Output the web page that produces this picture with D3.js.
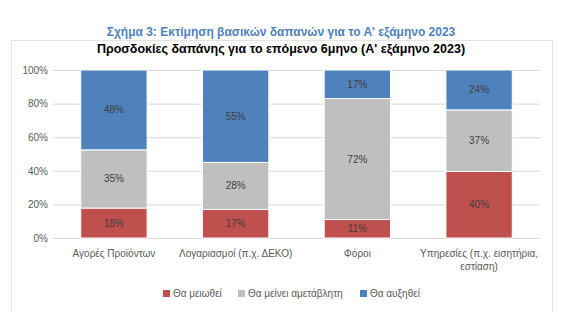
<!DOCTYPE html>
<html><head><meta charset="utf-8">
<script src="https://cdn.jsdelivr.net/npm/d3@7"></script>
<style>body{margin:0;background:#fff}svg{display:block}text{font-family:"Liberation Sans",Arial,sans-serif}</style>
</head><body><svg id="c" width="561" height="322"></svg>
<script>
const categories = ["Αγορές Προϊόντων", "Λογαριασμοί (π.χ. ΔΕΚΟ)", "Φόροι", "Υπηρεσίες (π.χ. εισητήρια, εστίαση)"];
const decrease = [18, 17, 11, 40];
const unchanged = [35, 28, 72, 37];
const increase = [48, 55, 17, 24];
const seriesNames = ["Θα μειωθεί", "Θα μείνει αμετάβλητη", "Θα αυξηθεί"];
const yTicks = [0, 0.2, 0.4, 0.6, 0.8, 1];
const colors = ["#C0504D", "#BFBFBF", "#4F81BD"];

const svg = d3.select("#c");
const rows = categories.map((c, i) => ({cat: c, s0: decrease[i], s1: unchanged[i], s2: increase[i]}));
const keys = ["s0", "s1", "s2"];
const stack = d3.stack().keys(keys).offset(d3.stackOffsetExpand)(rows);

const pL = 53, pR = 540, pT = 70, pB = 238;
const x = d3.scaleBand().domain(categories).range([pL, pR]).paddingInner(0.455).paddingOuter(0.228);
const y = d3.scaleLinear().domain([0, 1]).range([pB, pT]);

// frame
svg.append("path").attr("d", `M11.5,312 V40.5 H552.5 V312`).attr("fill", "none").attr("stroke", "#E3E3E3");

// titles
svg.append("text").attr("x", 281).attr("y", 36).attr("text-anchor", "middle").attr("fill", "#4F81BD")
  .attr("font-size", 12).attr("font-weight", "bold").text("Σχήμα 3: Εκτίμηση βασικών δαπανών για το Α' εξάμηνο 2023");
svg.append("text").attr("x", 281).attr("y", 53).attr("text-anchor", "middle").attr("fill", "#000")
  .attr("font-size", 12.5).attr("font-weight", "bold").text("Προσδοκίες δαπάνης για το επόμενο 6μηνο (Α' εξάμηνο 2023)");

// gridlines & y axis
const yAxis = d3.axisLeft(y).tickValues(yTicks).tickFormat(d3.format(".0%")).tickSize(-(pR - pL)).tickPadding(5);
const ga = svg.append("g").attr("transform", `translate(${pL},0)`).call(yAxis);
ga.select(".domain").remove();
ga.selectAll(".tick line").attr("stroke", "#D9D9D9");
ga.selectAll(".tick text").attr("fill", "#595959").attr("font-size", 10).attr("font-family", "Liberation Sans, Arial, sans-serif");

// bars
const g = svg.append("g");
stack.forEach((layer, li) => {
  g.selectAll(null).data(layer).join("rect")
    .attr("x", d => x(d.data.cat)).attr("width", x.bandwidth())
    .attr("y", d => y(d[1])).attr("height", d => y(d[0]) - y(d[1]))
    .attr("fill", colors[li]).attr("stroke", "#fff").attr("stroke-width", 1);
  g.selectAll(null).data(layer).join("text")
    .attr("x", d => x(d.data.cat) + x.bandwidth() / 2)
    .attr("y", d => (y(d[0]) + y(d[1])) / 2 + 3.5)
    .attr("text-anchor", "middle").attr("font-size", 10).attr("fill", "#404040")
    .text(d => d.data[keys[li]] + "%");
});

// x axis labels
const xl = svg.append("g");
categories.forEach(c => {
  const cx = x(c) + x.bandwidth() / 2;
  const t = xl.append("text").attr("x", cx).attr("y", 257).attr("text-anchor", "middle").attr("font-size", 10).attr("fill", "#595959");
  if (c.startsWith("Υπηρεσίες")) {
    t.append("tspan").attr("x", cx).attr("dy", 0).text("Υπηρεσίες (π.χ. εισητήρια,");
    t.append("tspan").attr("x", cx).attr("dy", 13).text("εστίαση)");
  } else t.text(c);
});

// legend
const legX = [163, 238, 360];
seriesNames.forEach((n, i) => {
  svg.append("rect").attr("x", legX[i]).attr("y", 290).attr("width", 7).attr("height", 7).attr("fill", colors[i]);
  svg.append("text").attr("x", legX[i] + 10).attr("y", 297).attr("font-size", 10).attr("fill", "#595959").text(n);
});
</script></body></html>
